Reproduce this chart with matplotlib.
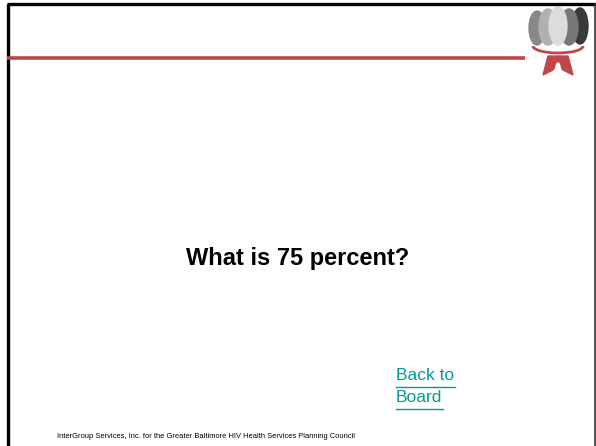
import matplotlib.pyplot as plt
from matplotlib.patches import Ellipse, Polygon, Arc

W, H = 596, 446

question = "What is 75 percent?"
link_lines = ["Back to", "Board"]
footer = "InterGroup Services, Inc. for the Greater Baltimore HIV Health Services Planning Council"

RED = "#c0464a"
TEAL = "#009a9a"

fig = plt.figure(figsize=(W / 100, H / 100), dpi=100)
ax = fig.add_axes([0, 0, 1, 1])
ax.set_xlim(0, W)
ax.set_ylim(H, 0)
ax.axis("off")

# slide frame
ax.plot([8, 8], [4, H], color="black", lw=2.4, solid_capstyle="butt")
ax.plot([7, W], [4, 4], color="black", lw=2.4, solid_capstyle="butt")
ax.plot([594.5, 594.5], [4, H], color="#333333", lw=1.2)

# red rule under title area
ax.plot([7, 525], [58, 58], color=RED, lw=2.6, solid_capstyle="butt")

# logo: grey heads and red figure
ax.add_patch(Ellipse((537, 28), 16, 34, color="#888888"))
ax.add_patch(Ellipse((580, 26), 16, 36, color="#3a3a3a"))
ax.add_patch(Ellipse((548, 27), 18, 36, color="#b0b0b0"))
ax.add_patch(Ellipse((569, 27), 18, 36, color="#777777"))
ax.add_patch(Ellipse((558, 26), 18, 38, color="#dcdcdc"))
ax.add_patch(Arc((558, 46), 50, 14, theta1=0, theta2=180, color=RED, lw=2))
ax.add_patch(Polygon([[548, 56], [568, 56], [573, 75], [563, 70], [558, 62],
                      [553, 70], [543, 75]], closed=True, color=RED))
ax.add_patch(Ellipse((558, 68), 4, 10, color="white"))

ax.text(W / 2, 258, question, ha="center", va="center", fontsize=17,
        fontweight="bold", family="Liberation Sans")

for i, line in enumerate(link_lines):
    ax.text(396, 376 + i * 22, line, ha="left", va="center", fontsize=12.5,
            color=TEAL, family="Liberation Sans")
ax.plot([396, 455], [387, 387], color=TEAL, lw=1)
ax.plot([396, 443], [409, 409], color=TEAL, lw=1)

ax.text(57, 437, footer, ha="left", va="center", fontsize=5.4,
        family="Liberation Sans")

fig.savefig("out.png", dpi=100)
